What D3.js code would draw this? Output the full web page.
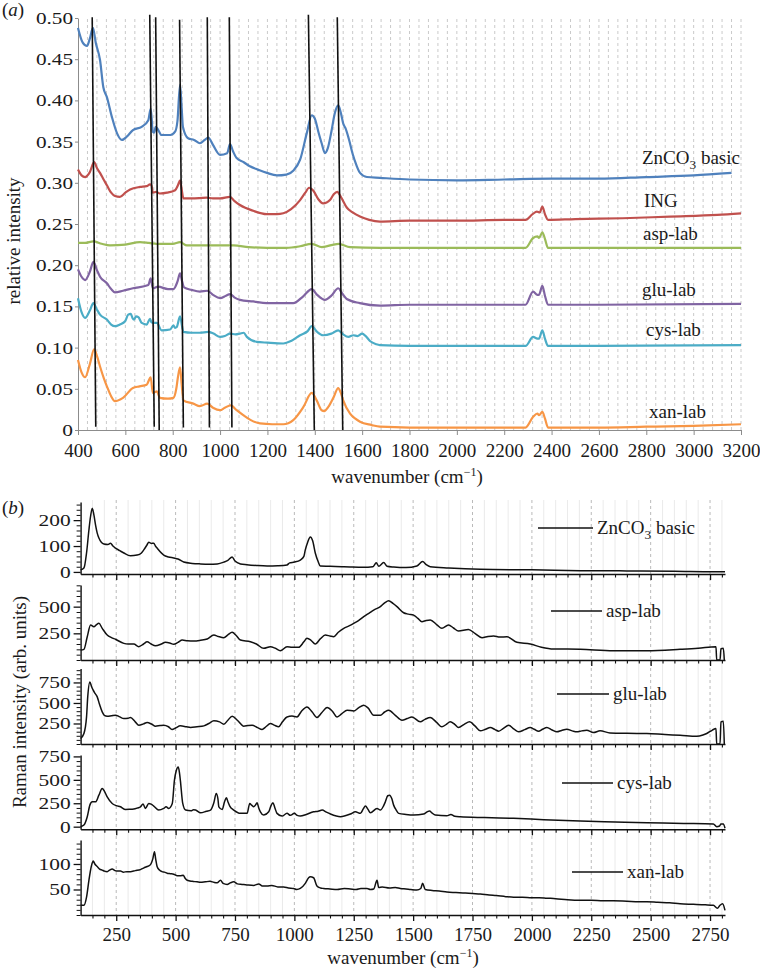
<!DOCTYPE html>
<html><head><meta charset="utf-8">
<script src="https://cdn.jsdelivr.net/npm/d3@7"></script>
<style>
body{margin:0;background:#fff}
svg{display:block}
svg text{font-family:"Liberation Serif","Times New Roman","DejaVu Serif",serif !important;fill:#1a1a1a}
</style>
</head><body><svg id="c" width="760" height="969"></svg>
<script>
// ---------------- DATA: panel (a) FTIR ----------------
const ftirNames = ["ZnCO3 basic","ING","asp-lab","glu-lab","cys-lab","xan-lab"];
const ftirZn = [[400,0.488],[420,0.470],[438,0.466],[450,0.475],[463,0.488],[475,0.470],[493,0.449],[507,0.416],[522,0.404],[543,0.380],[565,0.360],[585,0.352],[606,0.356],[632,0.364],[669,0.368],[697,0.376],[707,0.390],[716,0.362],[722,0.361],[728,0.368],[735,0.366],[753,0.358],[790,0.358],[810,0.362],[820,0.375],[831,0.419],[838,0.390],[843,0.368],[865,0.354],[890,0.352],[915,0.348],[935,0.352],[950,0.355],[970,0.346],[1000,0.334],[1030,0.336],[1042,0.347],[1055,0.338],[1070,0.330],[1100,0.325],[1126,0.320],[1160,0.316],[1198,0.312],[1240,0.309],[1280,0.310],[1310,0.315],[1338,0.328],[1366,0.360],[1387,0.382],[1400,0.378],[1415,0.362],[1429,0.348],[1443,0.336],[1455,0.342],[1470,0.362],[1485,0.385],[1499,0.394],[1510,0.385],[1520,0.372],[1530,0.366],[1545,0.352],[1560,0.335],[1575,0.322],[1591,0.312],[1620,0.307],[1675,0.306],[1800,0.304],[2000,0.303],[2200,0.304],[2400,0.305],[2600,0.305],[2800,0.307],[3000,0.309],[3160,0.312]];
const ftirIng = [[400,0.316],[415,0.309],[430,0.307],[450,0.313],[468,0.325],[480,0.318],[493,0.312],[510,0.303],[522,0.297],[540,0.288],[556,0.284],[577,0.283],[600,0.288],[620,0.292],[662,0.295],[690,0.296],[704,0.298],[710,0.297],[716,0.288],[730,0.289],[745,0.287],[776,0.288],[810,0.291],[822,0.297],[831,0.303],[838,0.292],[845,0.281],[880,0.281],[943,0.282],[970,0.281],[1000,0.281],[1042,0.283],[1060,0.278],[1084,0.273],[1140,0.266],[1197,0.262],[1240,0.262],[1267,0.263],[1300,0.268],[1338,0.279],[1360,0.288],[1376,0.294],[1395,0.290],[1415,0.280],[1435,0.275],[1450,0.276],[1464,0.279],[1480,0.286],[1495,0.289],[1510,0.283],[1535,0.270],[1560,0.264],[1591,0.259],[1630,0.255],[1675,0.253],[1800,0.254],[2000,0.254],[2200,0.255],[2290,0.255],[2320,0.262],[2338,0.265],[2350,0.264],[2361,0.271],[2372,0.262],[2385,0.255],[2500,0.256],[2700,0.257],[2900,0.259],[3100,0.261],[3200,0.263]];
const ftirAsp = [[400,0.227],[430,0.227],[465,0.229],[500,0.226],[535,0.224],[600,0.225],[662,0.228],[700,0.227],[733,0.226],[800,0.226],[831,0.228],[860,0.224],[960,0.224],[1058,0.224],[1120,0.222],[1198,0.221],[1280,0.221],[1338,0.223],[1387,0.226],[1430,0.222],[1500,0.226],[1549,0.222],[1675,0.221],[1900,0.221],[2290,0.221],[2322,0.233],[2340,0.235],[2347,0.233],[2361,0.240],[2372,0.232],[2385,0.221],[2600,0.221],[3200,0.221]];
const ftirGlu = [[400,0.195],[415,0.186],[430,0.182],[450,0.192],[465,0.204],[480,0.194],[493,0.186],[522,0.178],[540,0.171],[556,0.167],[590,0.169],[632,0.172],[697,0.176],[707,0.184],[716,0.172],[738,0.174],[780,0.171],[803,0.171],[820,0.180],[831,0.190],[840,0.180],[848,0.173],[880,0.170],[915,0.168],[946,0.169],[970,0.164],[1000,0.160],[1025,0.163],[1042,0.165],[1060,0.161],[1084,0.158],[1140,0.156],[1197,0.154],[1250,0.154],[1309,0.154],[1350,0.162],[1387,0.171],[1410,0.164],[1443,0.158],[1470,0.163],[1499,0.172],[1515,0.166],[1535,0.159],[1590,0.154],[1675,0.151],[1800,0.152],[2000,0.152],[2290,0.152],[2322,0.168],[2340,0.164],[2347,0.164],[2361,0.175],[2372,0.163],[2385,0.152],[2600,0.152],[3200,0.153]];
const ftirCys = [[400,0.160],[415,0.143],[430,0.136],[450,0.145],[465,0.154],[480,0.146],[493,0.140],[522,0.134],[540,0.128],[556,0.126],[577,0.128],[599,0.132],[612,0.140],[623,0.141],[630,0.136],[637,0.134],[645,0.138],[655,0.137],[669,0.130],[690,0.128],[704,0.135],[710,0.131],[718,0.130],[733,0.130],[753,0.121],[789,0.122],[803,0.127],[810,0.124],[817,0.125],[831,0.138],[840,0.125],[845,0.119],[880,0.118],[915,0.118],[950,0.119],[972,0.117],[1000,0.113],[1020,0.114],[1042,0.117],[1065,0.116],[1084,0.117],[1100,0.118],[1113,0.113],[1155,0.107],[1200,0.106],[1267,0.105],[1300,0.108],[1338,0.115],[1370,0.120],[1387,0.126],[1410,0.119],[1435,0.115],[1470,0.117],[1499,0.121],[1520,0.116],[1542,0.113],[1563,0.115],[1580,0.114],[1600,0.117],[1615,0.114],[1633,0.108],[1660,0.104],[1675,0.103],[1800,0.102],[2000,0.102],[2290,0.102],[2322,0.113],[2340,0.111],[2347,0.111],[2361,0.121],[2372,0.111],[2385,0.102],[2600,0.102],[3200,0.103]];
const ftirXan = [[400,0.085],[415,0.070],[430,0.064],[450,0.080],[468,0.098],[480,0.090],[493,0.077],[510,0.062],[522,0.053],[540,0.041],[556,0.035],[590,0.039],[632,0.051],[660,0.053],[690,0.055],[707,0.064],[716,0.045],[725,0.046],[733,0.047],[746,0.039],[780,0.038],[803,0.039],[815,0.050],[822,0.064],[831,0.076],[838,0.055],[845,0.036],[887,0.032],[915,0.029],[946,0.032],[970,0.027],[1000,0.024],[1020,0.027],[1045,0.030],[1070,0.024],[1098,0.018],[1130,0.012],[1169,0.008],[1220,0.007],[1267,0.007],[1309,0.012],[1352,0.028],[1387,0.045],[1408,0.036],[1429,0.024],[1440,0.023],[1457,0.028],[1480,0.040],[1499,0.051],[1510,0.045],[1520,0.036],[1549,0.020],[1570,0.014],[1591,0.010],[1640,0.006],[1675,0.004],[1800,0.003],[2000,0.003],[2290,0.003],[2322,0.016],[2340,0.020],[2347,0.018],[2361,0.022],[2372,0.014],[2385,0.003],[2600,0.003],[2800,0.004],[3000,0.005],[3200,0.007]];
const ftirData = [ftirZn, ftirIng, ftirAsp, ftirGlu, ftirCys, ftirXan];
// black guide lines (wavenumber at top / bottom, value at top / bottom)
const guideTopW = [460, 703, 728, 829, 946, 1039, 1373, 1495];
const guideBotW = [475, 722, 743, 845, 955, 1050, 1398, 1518];
const guideTopV = [0.501, 0.504, 0.501, 0.498, 0.501, 0.501, 0.504, 0.501];
const guideBotV = [0.004, 0.004, 0.000, 0.003, 0.003, 0.003, 0.000, 0.000];
const topXTicks = [400,600,800,1000,1200,1400,1600,1800,2000,2200,2400,2600,2800,3000,3200];
const topYTicks = [0,0.05,0.10,0.15,0.20,0.25,0.30,0.35,0.40,0.45,0.50];

// ---------------- DATA: panel (b) Raman ----------------
const ramanNames = ["ZnCO3 basic","asp-lab","glu-lab","cys-lab","xan-lab"];
const ramZn = [[100,8],[114,15],[125,73],[135,162],[142,215],[149,246],[156,220],[163,181],[170,150],[177,131],[198,108],[215,106],[226,111],[236,100],[247,92],[265,82],[282,73],[310,62],[338,65],[355,72],[366,85],[380,105],[387,115],[397,110],[408,111],[415,100],[422,92],[450,65],[470,58],[492,54],[510,50],[534,38],[570,33],[605,31],[640,30],[675,31],[703,38],[720,45],[738,58],[750,42],[773,31],[800,28],[840,25],[885,23],[930,24],[969,27],[980,35],[1000,38],[1025,46],[1040,60],[1046,85],[1056,115],[1067,135],[1077,120],[1088,73],[1100,40],[1109,23],[1150,22],[1200,20],[1235,19],[1290,18],[1330,20],[1345,35],[1355,22],[1376,36],[1390,22],[1418,19],[1470,17],[1516,23],[1540,40],[1555,28],[1572,20],[1650,15],[1783,10],[2000,8],[2204,5],[2400,4],[2600,3],[2763,1],[2813,1]];
const ramAsp = [[100,93],[114,100],[128,218],[142,328],[156,312],[166,330],[177,344],[191,297],[212,234],[230,210],[247,194],[282,156],[300,150],[324,150],[345,125],[365,150],[380,171],[397,150],[415,134],[440,150],[457,166],[475,160],[492,147],[510,165],[528,187],[550,180],[577,178],[605,185],[633,197],[661,234],[680,220],[703,209],[720,235],[738,259],[755,230],[773,187],[815,171],[840,150],[871,109],[899,125],[920,110],[941,87],[969,125],[990,120],[1018,119],[1040,170],[1053,203],[1070,185],[1088,150],[1110,200],[1130,234],[1150,225],[1165,218],[1185,260],[1208,297],[1230,320],[1250,344],[1270,370],[1292,406],[1315,440],[1334,468],[1362,500],[1380,535],[1397,556],[1415,530],[1432,500],[1460,443],[1480,430],[1502,421],[1520,390],[1537,359],[1555,370],[1572,375],[1600,330],[1621,297],[1649,328],[1670,300],[1691,272],[1733,287],[1760,250],[1790,209],[1815,220],[1839,225],[1865,215],[1895,218],[1937,166],[1993,150],[2040,120],[2091,103],[2150,102],[2203,100],[2343,87],[2484,87],[2624,100],[2700,110],[2775,125],[2778,0],[2792,0],[2796,105],[2806,110],[2810,0]];
const ramGlu = [[100,67],[114,128],[125,330],[130,574],[139,757],[146,700],[153,656],[160,620],[170,574],[180,480],[191,391],[200,350],[212,339],[230,345],[247,351],[265,330],[282,311],[300,315],[310,323],[330,270],[345,229],[365,245],[380,262],[400,240],[415,217],[435,225],[450,229],[470,210],[485,177],[500,195],[520,221],[545,210],[563,201],[590,210],[619,221],[640,250],[661,282],[685,270],[703,241],[720,290],[738,339],[760,290],[787,217],[805,225],[822,229],[845,200],[864,177],[880,210],[899,250],[915,230],[934,209],[950,270],[969,330],[990,340],[1011,330],[1030,400],[1053,452],[1075,390],[1095,323],[1115,380],[1138,445],[1160,400],[1180,330],[1200,370],[1222,412],[1250,403],[1270,440],[1292,473],[1310,440],[1334,351],[1362,351],[1380,390],[1397,412],[1425,350],[1453,290],[1475,310],[1495,330],[1530,270],[1550,300],[1572,323],[1600,260],[1621,209],[1640,240],[1656,270],[1675,240],[1691,201],[1715,240],[1738,270],[1760,220],[1783,160],[1805,180],[1825,201],[1845,175],[1860,156],[1880,190],[1902,229],[1925,180],[1944,148],[1970,175],[1993,201],[2010,180],[2028,156],[2045,180],[2063,201],[2085,170],[2105,148],[2125,165],[2147,180],[2170,160],[2189,148],[2210,160],[2231,168],[2259,140],[2287,160],[2329,135],[2400,130],[2484,128],[2560,115],[2624,107],[2694,95],[2720,110],[2736,128],[2760,170],[2775,189],[2778,0],[2792,0],[2796,270],[2806,278],[2810,0]];
const ramCys = [[100,0],[114,18],[128,106],[139,230],[149,265],[163,265],[177,336],[191,407],[200,380],[212,318],[233,248],[250,225],[268,212],[289,184],[305,185],[324,188],[340,200],[352,212],[363,241],[373,195],[387,248],[397,240],[408,220],[429,177],[450,195],[460,212],[471,195],[486,248],[495,495],[503,600],[511,636],[516,580],[520,495],[530,248],[542,177],[565,170],[575,180],[584,177],[605,148],[630,165],[647,177],[661,255],[671,354],[678,300],[682,212],[696,184],[706,265],[714,308],[721,260],[728,220],[745,177],[773,142],[801,142],[812,248],[820,230],[829,212],[836,230],[843,255],[850,200],[857,159],[871,124],[892,159],[901,220],[910,255],[918,200],[927,142],[948,113],[969,142],[983,121],[1000,142],[1012,120],[1025,113],[1050,130],[1081,159],[1100,165],[1117,177],[1135,155],[1152,135],[1194,106],[1236,135],[1257,159],[1278,142],[1290,190],[1299,220],[1310,185],[1320,148],[1348,195],[1362,177],[1375,220],[1383,265],[1393,330],[1401,336],[1410,300],[1418,230],[1428,180],[1439,142],[1470,130],[1502,124],[1544,135],[1560,160],[1569,166],[1580,145],[1593,124],[1642,117],[1659,131],[1675,112],[1698,106],[1800,97],[1923,89],[2050,75],[2203,60],[2350,50],[2484,42],[2640,35],[2764,29],[2778,0],[2790,7],[2796,29],[2806,29],[2813,-17]];
const ramXan = [[100,19],[114,19],[125,35],[135,68],[145,95],[153,106],[160,100],[170,95],[180,90],[191,88],[200,86],[212,85],[222,88],[233,90],[245,87],[255,86],[268,86],[280,84],[295,85],[310,85],[330,87],[352,89],[365,92],[380,95],[390,97],[397,101],[404,110],[411,124],[416,110],[422,95],[432,88],[443,85],[453,84],[464,82],[478,81],[492,80],[507,77],[520,77],[532,78],[540,72],[549,68],[570,66],[590,65],[605,64],[625,65],[645,66],[661,64],[675,63],[689,68],[700,62],[717,60],[730,63],[745,65],[760,61],[780,60],[800,59],[829,58],[850,61],[865,57],[885,57],[905,58],[930,55],[955,55],[975,53],[997,52],[1010,50],[1025,52],[1046,62],[1060,73],[1067,75],[1081,73],[1095,57],[1110,53],[1123,52],[1150,51],[1180,50],[1210,52],[1236,51],[1260,50],[1280,52],[1306,52],[1320,50],[1334,51],[1348,68],[1355,54],[1370,55],[1400,53],[1425,54],[1446,52],[1470,51],[1490,50],[1516,49],[1532,52],[1540,62],[1551,50],[1580,48],[1610,47],[1642,45],[1680,44],[1720,43],[1750,42],[1783,41],[1820,39],[1850,38],[1890,36],[1923,35],[1960,35],[2000,34],[2030,34],[2063,33],[2100,32],[2150,30],[2203,29],[2250,29],[2300,28],[2343,28],[2400,27],[2450,26],[2484,26],[2530,25],[2580,24],[2624,22],[2680,21],[2730,20],[2764,19],[2781,13],[2792,19],[2803,22],[2813,9]];
const ramanData = [ramZn, ramAsp, ramGlu, ramCys, ramXan];
const botXMajor = [250,500,750,1000,1250,1500,1750,2000,2250,2500,2750];
const botYMajor = [[0,100,200],[250,500],[250,500,750],[0,250,500,750],[50,100]];
const botYMinorStep = [20,50,50,50,10];
const botYDomain = [[-8,270],[0,703],[0,920],[-28,765],[0,147]];

// ---------------- LAYOUT / STYLE ----------------
const ftirColors = ["#4f81bd","#c0504d","#9bbb59","#8064a2","#4bacc6","#f79646"];
const ftirLabelPos = [[642,164],[644,207],[643,240],[642,296],[646,336],[649,418]];
const botRanges = [[574,502],[660,585],[744,668.5],[829.3,755],[915,840]];
const legendPos = [[538,593,528],[551,602,611],[557,609,694],[562,613,783],[572,623,872]];
const FONT = 19;
const FF = '"Liberation Serif","Times New Roman","DejaVu Serif",serif';
const yDigitW = 10.7; // width per digit of the (wide) y tick labels

const svg = d3.select("#c");

function addLabel(sel, name){
  if(name === "ZnCO3 basic"){
    sel.append("tspan").text("ZnCO");
    sel.append("tspan").attr("dy",5).attr("font-size",FONT*0.7).text("3");
    sel.append("tspan").attr("dy",-5).text(" basic");
  } else sel.text(name);
}
function styleAxis(g, color){
  g.attr("font-family",FF);
  g.selectAll("path.domain").attr("stroke",color);
  g.selectAll(".tick line").attr("stroke",color);
  g.selectAll("text").attr("font-family",FF).attr("font-size",FONT).attr("fill","#1a1a1a");
}
function widenY(g){
  g.selectAll("text").attr("font-size",17).attr("lengthAdjust","spacingAndGlyphs")
    .attr("textLength",function(){const s=this.textContent;return s.replace(".","").length*yDigitW+(s.includes(".")?5:0);});
}

// ================= PANEL (a) =================
const xA = d3.scaleLinear().domain([400,3200]).range([78,741]);
const yA = d3.scaleLinear().domain([0,0.5]).range([430,18]);
const gA = svg.append("g").attr("font-family",FF);
gA.append("g").selectAll("line").data(d3.range(440,3201,40)).join("line")
  .attr("x1",d=>xA(d)).attr("x2",d=>xA(d)).attr("y1",yA(0)).attr("y2",yA(0.5))
  .attr("stroke","#bdbdbd").attr("stroke-width",0.8).attr("stroke-dasharray","3,3");
const axA = gA.append("g").attr("transform",`translate(0,${yA(0)})`)
  .call(d3.axisBottom(xA).tickValues(topXTicks).tickSize(5).tickSizeOuter(0).tickPadding(9).tickFormat(d3.format("d")));
styleAxis(axA,"#8c8c8c");
const ayA = gA.append("g").attr("transform",`translate(${xA(400)},0)`)
  .call(d3.axisLeft(yA).tickValues(topYTicks).tickSize(3).tickSizeOuter(0).tickPadding(2).tickFormat(d=>d===0?"0":d.toFixed(2)));
styleAxis(ayA,"#8c8c8c"); widenY(ayA);
const lineA = d3.line().x(d=>xA(d[0])).y(d=>yA(d[1])).curve(d3.curveMonotoneX);
ftirData.forEach((s,i)=>{
  gA.append("path").datum(s).attr("d",lineA).attr("fill","none")
    .attr("stroke",ftirColors[i]).attr("stroke-width",2.2).attr("stroke-linejoin","round");
});
gA.append("g").selectAll("line").data(guideTopW).join("line")
  .attr("x1",(d,i)=>xA(d)).attr("y1",(d,i)=>yA(guideTopV[i]))
  .attr("x2",(d,i)=>xA(guideBotW[i])).attr("y2",(d,i)=>yA(guideBotV[i]))
  .attr("stroke","#111").attr("stroke-width",1.6);
ftirNames.forEach((n,i)=>{
  const t = gA.append("text").attr("x",ftirLabelPos[i][0]).attr("y",ftirLabelPos[i][1]).attr("font-size",FONT);
  addLabel(t,n);
});
const xlabA = gA.append("text").attr("x",407).attr("y",483).attr("text-anchor","middle").attr("font-size",FONT);
xlabA.append("tspan").text("wavenumber (cm");
xlabA.append("tspan").attr("dy",-7).attr("font-size",12).text("−1");
xlabA.append("tspan").attr("dy",7).text(")");
gA.append("text").attr("transform","translate(20,241) rotate(-90)").attr("text-anchor","middle").attr("font-size",FONT).text("relative intensity");
const pa = gA.append("text").attr("x",2).attr("y",16).attr("font-size",FONT);
pa.append("tspan").text("(");pa.append("tspan").attr("font-style","italic").text("a");pa.append("tspan").text(")");

// ================= PANEL (b) =================
const xB = d3.scaleLinear().domain([100,2813]).range([80.6,725]);
const gB = svg.append("g").attr("font-family",FF);
gB.append("g").selectAll("line").data(d3.range(150,2813,50).filter(d=>d%250!==0)).join("line")
  .attr("x1",d=>xB(d)).attr("x2",d=>xB(d)).attr("y1",500).attr("y2",915)
  .attr("stroke","#e4e4e4").attr("stroke-width",0.8);
gB.append("g").selectAll("line").data(botXMajor).join("line")
  .attr("x1",d=>xB(d)).attr("x2",d=>xB(d)).attr("y1",500).attr("y2",915)
  .attr("stroke","#a8a8a8").attr("stroke-width",0.8).attr("stroke-dasharray","3,3");
const xMinorB = d3.range(150,2813,50).filter(d=>d%250!==0);
ramanData.forEach((s,i)=>{
  const y = d3.scaleLinear().domain(botYDomain[i]).range(botRanges[i]);
  const g = gB.append("g");
  const last = i===ramanData.length-1;
  const bx = g.append("g").attr("transform",`translate(0,${botRanges[i][0]})`)
    .call(d3.axisBottom(xB).tickValues(botXMajor).tickSize(6).tickSizeOuter(0).tickPadding(7).tickFormat(last?d3.format("d"):()=>""));
  styleAxis(bx,"#111"); bx.selectAll("path.domain").attr("stroke-width",1.4); bx.selectAll(".tick line").attr("stroke-width",1.3);
  const bxm = g.append("g").attr("transform",`translate(0,${botRanges[i][0]})`)
    .call(d3.axisBottom(xB).tickValues(xMinorB).tickSize(3.5).tickFormat(()=>""));
  bxm.select("path.domain").remove(); bxm.selectAll(".tick line").attr("stroke","#111").attr("stroke-width",1.1);
  const ly = g.append("g").attr("transform",`translate(${xB(100)},0)`)
    .call(d3.axisLeft(y).tickValues(botYMajor[i]).tickSize(7).tickSizeOuter(0).tickPadding(3).tickFormat(d3.format("d")));
  styleAxis(ly,"#111"); widenY(ly); ly.selectAll("path.domain").attr("stroke-width",1.4); ly.selectAll(".tick line").attr("stroke-width",1.3);
  const dom = botYDomain[i], st = botYMinorStep[i];
  const minors = d3.range(Math.ceil(dom[0]/st)*st, dom[1]+0.001, st).filter(v=>!botYMajor[i].includes(v));
  const lym = g.append("g").attr("transform",`translate(${xB(100)},0)`)
    .call(d3.axisLeft(y).tickValues(minors).tickSize(4).tickFormat(()=>""));
  lym.select("path.domain").remove(); lym.selectAll(".tick line").attr("stroke","#111").attr("stroke-width",1);
  const ln = d3.line().x(d=>xB(d[0])).y(d=>y(d[1])).curve(d3.curveMonotoneX);
  g.append("path").datum(s).attr("d",ln).attr("fill","none").attr("stroke","#111").attr("stroke-width",1.5).attr("stroke-linejoin","round");
  const lp = legendPos[i];
  g.append("line").attr("x1",lp[0]).attr("x2",lp[1]).attr("y1",lp[2]).attr("y2",lp[2]).attr("stroke","#111").attr("stroke-width",1.5);
  const t = g.append("text").attr("x",lp[1]+4).attr("y",lp[2]+6).attr("font-size",FONT);
  addLabel(t, ramanNames[i]);
});
const xlabB = gB.append("text").attr("x",403).attr("y",964).attr("text-anchor","middle").attr("font-size",FONT);
xlabB.append("tspan").text("wavenumber (cm");
xlabB.append("tspan").attr("dy",-7).attr("font-size",12).text("−1");
xlabB.append("tspan").attr("dy",7).text(")");
gB.append("text").attr("transform","translate(26,702) rotate(-90)").attr("text-anchor","middle").attr("font-size",FONT).text("Raman intensity (arb. units)");
const pb = gB.append("text").attr("x",2).attr("y",514).attr("font-size",FONT);
pb.append("tspan").text("(");pb.append("tspan").attr("font-style","italic").text("b");pb.append("tspan").text(")");
</script></body></html>
